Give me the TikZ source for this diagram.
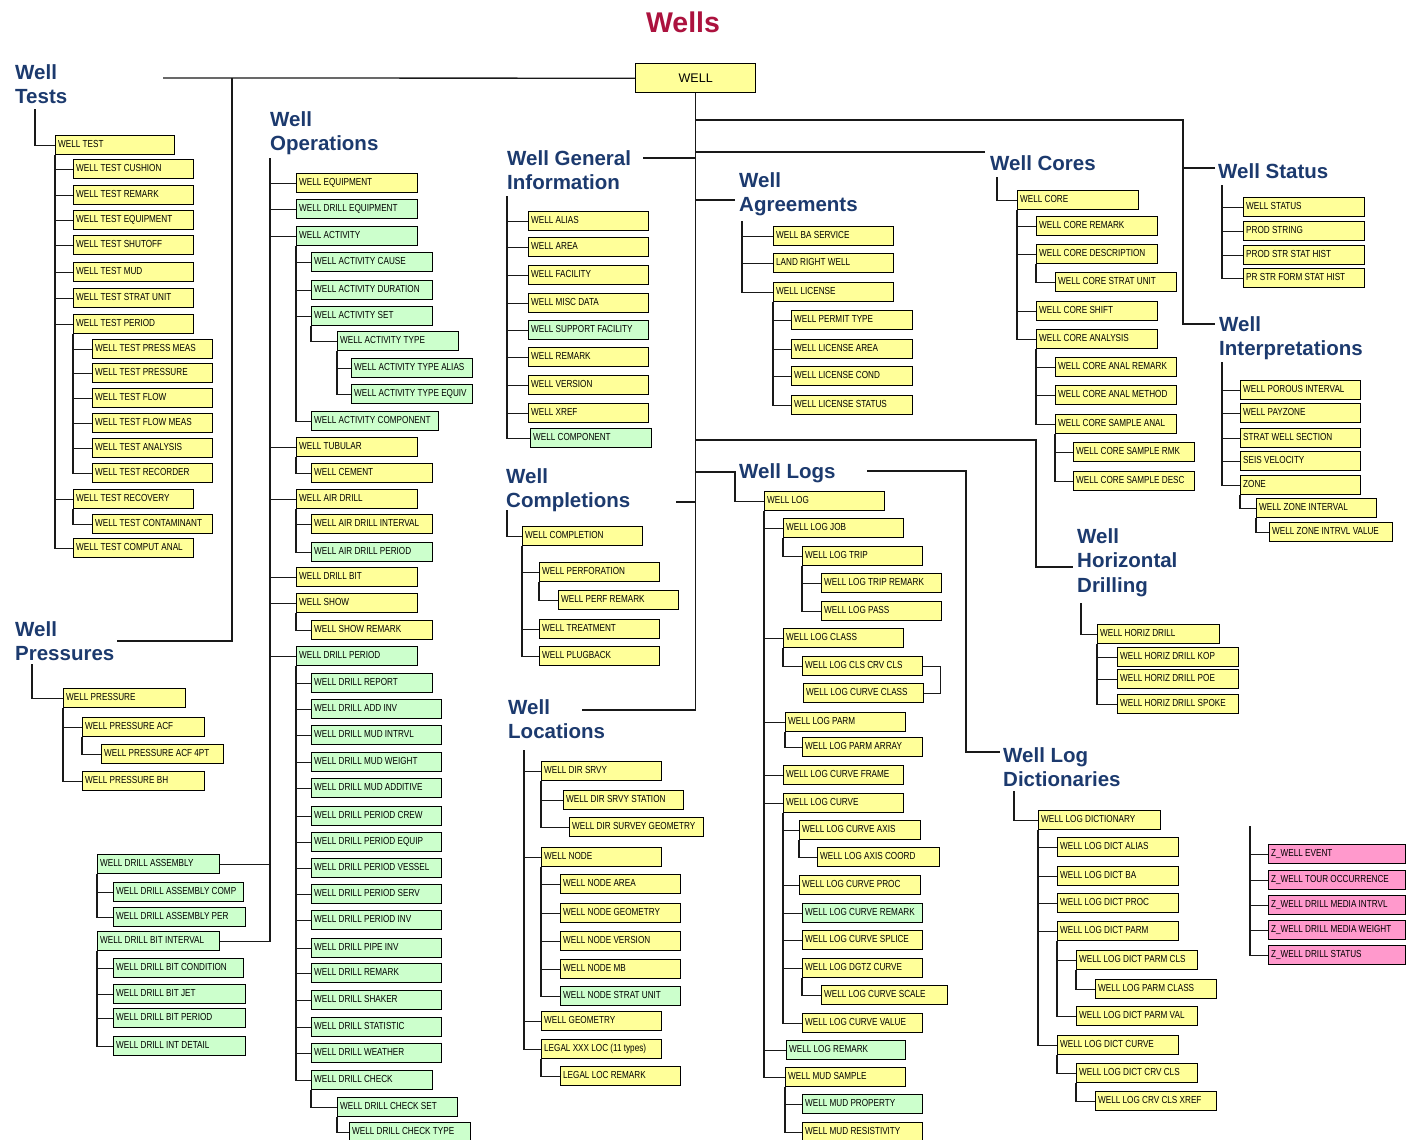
\documentclass[tikz,border=0pt]{standalone}
\usepackage{fontspec}
\newfontfamily\boxfont[FakeStretch=0.8]{Liberation Sans}
\newfontfamily\headfont{Liberation Sans}
\definecolor{yel}{RGB}{255,255,153}
\definecolor{grn}{RGB}{204,255,204}
\definecolor{pnk}{RGB}{255,153,204}
\definecolor{navy}{RGB}{28,58,110}
\definecolor{crim}{RGB}{172,18,62}
\tikzset{
  box/.style={draw=black, line width=1.4pt, anchor=north west, minimum height=19pt,
    inner xsep=2.5pt, inner ysep=0pt, text height=7.5pt, text depth=3pt,
    font=\boxfont\fontsize{10.2pt}{11pt}\selectfont},
  head/.style={anchor=north west, align=left, inner sep=0pt, text=navy,
    font=\headfont\bfseries\fontsize{20.5pt}{24.5pt}\selectfont},
  conn/.style={draw=black!90, line width=1.3pt},
}
% table box: [fill]{name}{left}{top}{width}{label}
\newcommand\bx[6][yel]{\node[box,fill=#1] (#2) at (#3,#4) {\makebox[\dimexpr#5pt-5pt\relax][l]{#6}};}
% elbow connectors from a spine start to several children
\newcommand\kids[2]{\foreach \bxc in {#2}{\draw[conn] (#1) |- (\bxc.west);}}
\begin{document}
\begin{tikzpicture}[x=1pt,y=-1pt]
\fill[white] (0,0) rectangle (1406,1140);
\useasboundingbox (0,0) rectangle (1406,1140);

\node[font=\headfont\bfseries\fontsize{28.5pt}{30pt}\selectfont, text=crim] (title) at (683,22) {Wells};
\node[draw,line width=1.4pt,fill=yel,anchor=north west,minimum width=120pt,minimum height=29pt,
  inner sep=0pt,font=\headfont\fontsize{12.5pt}{14pt}\selectfont] (well) at (635,63) {WELL};

% headings
\node[head] (hTests) at (15,64) {Well\\Tests};
\node[head] (hPres) at (15,621) {Well\\Pressures};
\node[head] (hOps) at (270,111) {Well\\Operations};
\node[head] (hGen) at (507,150) {Well General\\Information};
\node[head] (hAgr) at (739,172) {Well\\Agreements};
\node[head] (hCores) at (990,155) {Well Cores};
\node[head] (hStat) at (1218,163) {Well Status};
\node[head] (hInt) at (1219,316) {Well\\Interpretations};
\node[head] (hComp) at (506,468) {Well\\Completions};
\node[head] (hLoc) at (508,699) {Well\\Locations};
\node[head] (hLogs) at (739,463) {Well Logs};
\node[head] (hHz) at (1077,528) {Well\\Horizontal\\Drilling};
\node[head] (hDict) at (1003,747) {Well Log\\Dictionaries};

% Well Tests
\bx{wt}{55}{135}{119}{WELL TEST}
\bx{wt1}{73}{159}{120}{WELL TEST CUSHION}
\bx{wt2}{73}{185}{120}{WELL TEST REMARK}
\bx{wt3}{73}{210}{120}{WELL TEST EQUIPMENT}
\bx{wt4}{73}{235}{120}{WELL TEST SHUTOFF}
\bx{wt5}{73}{262}{120}{WELL TEST MUD}
\bx{wt6}{73}{288}{120}{WELL TEST STRAT UNIT}
\bx{wt7}{73}{314}{120}{WELL TEST PERIOD}
\bx{wt71}{92}{339}{120}{WELL TEST PRESS MEAS}
\bx{wt72}{92}{363}{120}{WELL TEST PRESSURE}
\bx{wt73}{92}{388}{120}{WELL TEST FLOW}
\bx{wt74}{92}{413}{120}{WELL TEST FLOW MEAS}
\bx{wt75}{92}{438}{120}{WELL TEST ANALYSIS}
\bx{wt76}{92}{463}{120}{WELL TEST RECORDER}
\bx{wt8}{73}{489}{120}{WELL TEST RECOVERY}
\bx{wt81}{92}{514}{120}{WELL TEST CONTAMINANT}
\bx{wt9}{73}{538}{120}{WELL TEST COMPUT ANAL}

% Well Pressures
\bx{wp}{63}{688}{122}{WELL PRESSURE}
\bx{wp1}{82}{717}{122}{WELL PRESSURE ACF}
\bx{wp11}{101}{744}{122}{WELL PRESSURE ACF 4PT}
\bx{wp2}{82}{771}{122}{WELL PRESSURE BH}

% Well Operations
\bx{o1}{296}{173}{121}{WELL EQUIPMENT}
\bx[grn]{o2}{296}{199}{121}{WELL DRILL EQUIPMENT}
\bx[grn]{o3}{296}{226}{121}{WELL ACTIVITY}
\bx[grn]{o31}{311}{252}{121}{WELL ACTIVITY CAUSE}
\bx[grn]{o32}{311}{280}{121}{WELL ACTIVITY DURATION}
\bx[grn]{o33}{311}{306}{121}{WELL ACTIVITY SET}
\bx[grn]{o331}{337}{331}{121}{WELL ACTIVITY TYPE}
\bx[grn]{o3311}{351}{358}{121}{WELL ACTIVITY TYPE ALIAS}
\bx[grn]{o3312}{351}{384}{121}{WELL ACTIVITY TYPE EQUIV}
\bx[grn]{o34}{311}{411}{127}{WELL ACTIVITY COMPONENT}
\bx{o4}{296}{437}{121}{WELL TUBULAR}
\bx{o41}{311}{463}{121}{WELL CEMENT}
\bx{o5}{296}{489}{121}{WELL AIR DRILL}
\bx{o51}{311}{514}{121}{WELL AIR DRILL INTERVAL}
\bx[grn]{o52}{311}{542}{121}{WELL AIR DRILL PERIOD}
\bx{o6}{296}{567}{121}{WELL DRILL BIT}
\bx{o7}{296}{593}{121}{WELL SHOW}
\bx{o71}{311}{620}{121}{WELL SHOW REMARK}
\bx[grn]{o8}{296}{646}{121}{WELL DRILL PERIOD}
\bx[grn]{o81}{311}{673}{121}{WELL DRILL REPORT}
\bx[grn]{o82}{311}{699}{130}{WELL DRILL ADD INV}
\bx[grn]{o83}{311}{725}{130}{WELL DRILL MUD INTRVL}
\bx[grn]{o84}{311}{752}{130}{WELL DRILL MUD WEIGHT}
\bx[grn]{o85}{311}{778}{130}{WELL DRILL MUD ADDITIVE}
\bx[grn]{o86}{311}{806}{130}{WELL DRILL PERIOD CREW}
\bx[grn]{o87}{311}{832}{130}{WELL DRILL PERIOD EQUIP}
\bx[grn]{o88}{311}{858}{130}{WELL DRILL PERIOD VESSEL}
\bx[grn]{o89}{311}{884}{130}{WELL DRILL PERIOD SERV}
\bx[grn]{o810}{311}{910}{130}{WELL DRILL PERIOD INV}
\bx[grn]{o811}{311}{938}{130}{WELL DRILL PIPE INV}
\bx[grn]{o812}{311}{963}{130}{WELL DRILL REMARK}
\bx[grn]{o813}{311}{990}{130}{WELL DRILL SHAKER}
\bx[grn]{o814}{311}{1017}{130}{WELL DRILL STATISTIC}
\bx[grn]{o815}{311}{1043}{130}{WELL DRILL WEATHER}
\bx[grn]{o816}{311}{1070}{121}{WELL DRILL CHECK}
\bx[grn]{o8161}{337}{1097}{120}{WELL DRILL CHECK SET}
\bx[grn]{o81611}{349}{1122}{121}{WELL DRILL CHECK TYPE}

% drill assembly and bit interval
\bx[grn]{a1}{97}{854}{122}{WELL DRILL ASSEMBLY}
\bx[grn]{a11}{113}{882}{130}{WELL DRILL ASSEMBLY COMP}
\bx[grn]{a12}{113}{907}{132}{WELL DRILL ASSEMBLY PER}
\bx[grn]{a2}{97}{931}{122}{WELL DRILL BIT INTERVAL}
\bx[grn]{a21}{113}{958}{130}{WELL DRILL BIT CONDITION}
\bx[grn]{a22}{113}{984}{132}{WELL DRILL BIT JET}
\bx[grn]{a23}{113}{1008}{132}{WELL DRILL BIT PERIOD}
\bx[grn]{a24}{113}{1036}{132}{WELL DRILL INT DETAIL}

% Well General Information
\bx{g1}{528}{211}{120}{WELL ALIAS}
\bx{g2}{528}{237}{120}{WELL AREA}
\bx{g3}{528}{265}{120}{WELL FACILITY}
\bx{g4}{528}{293}{120}{WELL MISC DATA}
\bx[grn]{g5}{528}{320}{120}{WELL SUPPORT FACILITY}
\bx{g6}{528}{347}{120}{WELL REMARK}
\bx{g7}{528}{375}{120}{WELL VERSION}
\bx{g8}{528}{403}{120}{WELL XREF}
\bx[grn]{g9}{530}{428}{121}{WELL COMPONENT}

% Well Agreements
\bx{ag1}{773}{226}{120}{WELL BA SERVICE}
\bx{ag2}{773}{253}{120}{LAND RIGHT WELL}
\bx{ag3}{773}{282}{120}{WELL LICENSE}
\bx{ag31}{791}{310}{121}{WELL PERMIT TYPE}
\bx{ag32}{791}{339}{121}{WELL LICENSE AREA}
\bx{ag33}{791}{366}{121}{WELL LICENSE COND}
\bx{ag34}{791}{395}{121}{WELL LICENSE STATUS}

% Well Cores
\bx{c1}{1017}{190}{121}{WELL CORE}
\bx{c11}{1036}{216}{121}{WELL CORE REMARK}
\bx{c12}{1036}{244}{121}{WELL CORE DESCRIPTION}
\bx{c121}{1055}{272}{121}{WELL CORE STRAT UNIT}
\bx{c13}{1036}{301}{121}{WELL CORE SHIFT}
\bx{c14}{1036}{329}{121}{WELL CORE ANALYSIS}
\bx{c141}{1055}{357}{121}{WELL CORE ANAL REMARK}
\bx{c142}{1055}{385}{121}{WELL CORE ANAL METHOD}
\bx{c143}{1055}{414}{121}{WELL CORE SAMPLE ANAL}
\bx{c1431}{1073}{442}{121}{WELL CORE SAMPLE RMK}
\bx{c1432}{1073}{471}{121}{WELL CORE SAMPLE DESC}

% Well Status
\bx{s1}{1243}{197}{121}{WELL STATUS}
\bx{s2}{1243}{221}{121}{PROD STRING}
\bx{s3}{1243}{245}{121}{PROD STR STAT HIST}
\bx{s4}{1243}{268}{121}{PR STR FORM STAT HIST}

% Well Interpretations
\bx{i1}{1240}{380}{120}{WELL POROUS INTERVAL}
\bx{i2}{1240}{403}{120}{WELL PAYZONE}
\bx{i3}{1240}{428}{120}{STRAT WELL SECTION}
\bx{i4}{1240}{451}{120}{SEIS VELOCITY}
\bx{i5}{1240}{475}{120}{ZONE}
\bx{i51}{1256}{498}{120}{WELL ZONE INTERVAL}
\bx{i511}{1269}{522}{123}{WELL ZONE INTRVL VALUE}

% Well Completions
\bx{cp}{522}{526}{120}{WELL COMPLETION}
\bx{cp1}{539}{562}{120}{WELL PERFORATION}
\bx{cp11}{558}{590}{120}{WELL PERF REMARK}
\bx{cp2}{539}{619}{120}{WELL TREATMENT}
\bx{cp3}{539}{646}{120}{WELL PLUGBACK}

% Well Locations
\bx{l1}{541}{761}{120}{WELL DIR SRVY}
\bx{l11}{563}{790}{120}{WELL DIR SRVY STATION}
\bx{l12}{569}{817}{134}{WELL DIR SURVEY GEOMETRY}
\bx{l2}{541}{847}{120}{WELL NODE}
\bx{l21}{560}{874}{120}{WELL NODE AREA}
\bx{l22}{560}{903}{120}{WELL NODE GEOMETRY}
\bx{l23}{560}{931}{120}{WELL NODE VERSION}
\bx{l24}{560}{959}{120}{WELL NODE MB}
\bx[grn]{l25}{560}{986}{120}{WELL NODE STRAT UNIT}
\bx{l3}{541}{1011}{120}{WELL GEOMETRY}
\bx{l4}{541}{1039}{120}{LEGAL XXX LOC (11 types)}
\bx{l41}{560}{1066}{120}{LEGAL LOC REMARK}

% Well Logs
\bx{lg}{764}{491}{120}{WELL LOG}
\bx{lg1}{783}{518}{120}{WELL LOG JOB}
\bx{lg11}{802}{546}{120}{WELL LOG TRIP}
\bx{lg111}{821}{573}{120}{WELL LOG TRIP REMARK}
\bx{lg112}{821}{601}{120}{WELL LOG PASS}
\bx{lg2}{783}{628}{120}{WELL LOG CLASS}
\bx{lg21}{802}{656}{120}{WELL LOG CLS CRV CLS}
\bx{lg22}{803}{683}{120}{WELL LOG CURVE CLASS}
\bx{lg3}{785}{712}{120}{WELL LOG PARM}
\bx{lg31}{802}{737}{120}{WELL LOG PARM ARRAY}
\bx{lg4}{783}{765}{120}{WELL LOG CURVE FRAME}
\bx{lg5}{783}{793}{120}{WELL LOG CURVE}
\bx{lg51}{799}{820}{121}{WELL LOG CURVE AXIS}
\bx{lg511}{817}{847}{122}{WELL LOG AXIS COORD}
\bx{lg52}{799}{875}{121}{WELL LOG CURVE PROC}
\bx[grn]{lg53}{802}{903}{120}{WELL LOG CURVE REMARK}
\bx{lg54}{802}{930}{120}{WELL LOG CURVE SPLICE}
\bx{lg55}{802}{958}{120}{WELL LOG DGTZ CURVE}
\bx{lg551}{821}{985}{126}{WELL LOG CURVE SCALE}
\bx{lg56}{802}{1013}{120}{WELL LOG CURVE VALUE}
\bx[grn]{lg6}{786}{1040}{119}{WELL LOG REMARK}
\bx{lg7}{785}{1067}{120}{WELL MUD SAMPLE}
\bx[grn]{lg71}{802}{1094}{120}{WELL MUD PROPERTY}
\bx{lg72}{802}{1122}{120}{WELL MUD RESISTIVITY}

% Well Horizontal Drilling
\bx{hz}{1097}{624}{122}{WELL HORIZ DRILL}
\bx{hz1}{1117}{647}{121}{WELL HORIZ DRILL KOP}
\bx{hz2}{1117}{669}{121}{WELL HORIZ DRILL POE}
\bx{hz3}{1117}{694}{121}{WELL HORIZ DRILL SPOKE}

% Well Log Dictionaries
\bx{d}{1038}{810}{122}{WELL LOG DICTIONARY}
\bx{d1}{1057}{837}{121}{WELL LOG DICT ALIAS}
\bx{d2}{1057}{866}{121}{WELL LOG DICT BA}
\bx{d3}{1057}{893}{121}{WELL LOG DICT PROC}
\bx{d4}{1057}{921}{121}{WELL LOG DICT PARM}
\bx{d41}{1076}{950}{121}{WELL LOG DICT PARM CLS}
\bx{d411}{1095}{979}{121}{WELL LOG PARM CLASS}
\bx{d42}{1076}{1006}{121}{WELL LOG DICT PARM VAL}
\bx{d5}{1057}{1035}{121}{WELL LOG DICT CURVE}
\bx{d51}{1076}{1063}{121}{WELL LOG DICT CRV CLS}
\bx{d511}{1095}{1091}{121}{WELL LOG CRV CLS XREF}

% Z_ tables
\bx[pnk]{z1}{1268}{844}{137}{Z\_WELL EVENT}
\bx[pnk]{z2}{1268}{870}{137}{Z\_WELL TOUR OCCURRENCE}
\bx[pnk]{z3}{1268}{895}{137}{Z\_WELL DRILL MEDIA INTRVL}
\bx[pnk]{z4}{1268}{920}{137}{Z\_WELL DRILL MEDIA WEIGHT}
\bx[pnk]{z5}{1268}{945}{137}{Z\_WELL DRILL STATUS}

% trunk lines from WELL
\coordinate (testsEnd) at (163,78);
\coordinate (jTests) at (232,78);
\coordinate (presEnd) at (117,641);
\coordinate (locEnd) at (582,710);
\coordinate (genEnd) at (643,158);
\coordinate (coresEnd) at (985,152);
\coordinate (agEnd) at (735,200);
\coordinate (compEnd) at (676,502);
\coordinate (jStat) at (1183,120);
\coordinate (stEnd) at (1215,168);
\coordinate (intEnd) at (1215,324);
\coordinate (jHz) at (1036,440);
\coordinate (hzEnd) at (1073,567);
\coordinate (jLog) at (735,472);
\coordinate (logsEnd) at (867,471);
\coordinate (jDict) at (966,471);
\coordinate (dictEnd) at (1000,752);

\draw[conn] (testsEnd) -- (well.west);
\draw[conn] (presEnd) -| (jTests);
\draw[conn] (well.south) |- (locEnd);
\draw[conn] (genEnd) -- (genEnd -| well.south);
\draw[conn] (coresEnd) -- (coresEnd -| well.south);
\draw[conn] (agEnd) -- (agEnd -| well.south);
\draw[conn] (compEnd) -- (compEnd -| well.south);
\draw[conn] (well.south |- jStat) -- (jStat) |- (intEnd);
\draw[conn] (stEnd) -- (stEnd -| jStat);
\draw[conn] (well.south |- jHz) -- (jHz) |- (hzEnd);
\draw[conn] (well.south |- jLog) -- (jLog) |- (lg.west);
\draw[conn] (logsEnd) -- (jDict) |- (dictEnd);

% spines below the headings
\coordinate (sTests) at (35,109);
\coordinate (sPres) at (32,664);
\coordinate (sOps) at (270,158);
\coordinate (sGen) at (507,196);
\coordinate (sAgr) at (742,221);
\coordinate (sCores) at (997,177);
\coordinate (sStat) at (1222,185);
\coordinate (sInt) at (1222,362);
\coordinate (sComp) at (507,510);
\coordinate (sLoc) at (524,750);
\coordinate (sHz) at (1081,603);
\coordinate (sDict) at (1014,791);
\coordinate (sZ) at (1250,826);

\kids{sTests}{wt}
\kids{sPres}{wp}
\kids{sOps}{o1,o2,o3,o4,o5,o6,o7,o8}
\draw[conn] (sOps) |- (a1.east);
\draw[conn] (sOps) |- (a2.east);
\kids{sGen}{g1,g2,g3,g4,g5,g6,g7,g8,g9}
\kids{sAgr}{ag1,ag2,ag3}
\kids{sCores}{c1}
\kids{sStat}{s1,s2,s3,s4}
\kids{sInt}{i1,i2,i3,i4,i5}
\kids{sComp}{cp}
\kids{sLoc}{l1,l2,l3,l4}
\kids{sHz}{hz}
\kids{sDict}{d}
\kids{sZ}{z1,z2,z3,z4,z5}

% parent to child connectors
\kids{wt.south west}{wt1,wt2,wt3,wt4,wt5,wt6,wt7,wt8,wt9}
\kids{wt7.south west}{wt71,wt72,wt73,wt74,wt75,wt76}
\kids{wt8.south west}{wt81}
\kids{wp.south west}{wp1,wp2}
\kids{wp1.south west}{wp11}
\kids{o3.south west}{o31,o32,o33,o34}
\kids{o33.south west}{o331}
\kids{o331.south west}{o3311,o3312}
\kids{o4.south west}{o41}
\kids{o5.south west}{o51,o52}
\kids{o7.south west}{o71}
\kids{o8.south west}{o81,o82,o83,o84,o85,o86,o87,o88,o89,o810,o811,o812,o813,o814,o815,o816}
\kids{o816.south west}{o8161}
\kids{o8161.south west}{o81611}
\kids{a1.south west}{a11,a12}
\kids{a2.south west}{a21,a22,a23,a24}
\kids{ag3.south west}{ag31,ag32,ag33,ag34}
\kids{c1.south west}{c11,c12,c13,c14}
\kids{c12.south west}{c121}
\kids{c14.south west}{c141,c142,c143}
\kids{c143.south west}{c1431,c1432}
\kids{i5.south west}{i51}
\kids{i51.south west}{i511}
\kids{cp.south west}{cp1,cp2,cp3}
\kids{cp1.south west}{cp11}
\kids{l1.south west}{l11,l12}
\kids{l2.south west}{l21,l22,l23,l24,l25}
\kids{l4.south west}{l41}
\kids{lg.south west}{lg1,lg2,lg3,lg4,lg5,lg6,lg7}
\kids{lg1.south west}{lg11}
\kids{lg11.south west}{lg111,lg112}
\kids{lg2.south west}{lg21}
\draw[conn] (lg21.east) -- ++(17,0) |- (lg22.east);
\kids{lg3.south west}{lg31}
\kids{lg5.south west}{lg51,lg52,lg53,lg54,lg55,lg56}
\kids{lg51.south west}{lg511}
\kids{lg55.south west}{lg551}
\kids{lg7.south west}{lg71,lg72}
\kids{hz.south west}{hz1,hz2,hz3}
\kids{d.south west}{d1,d2,d3,d4,d5}
\kids{d4.south west}{d41,d42}
\kids{d41.south west}{d411}
\kids{d5.south west}{d51}
\kids{d51.south west}{d511}
\end{tikzpicture}
\end{document}
